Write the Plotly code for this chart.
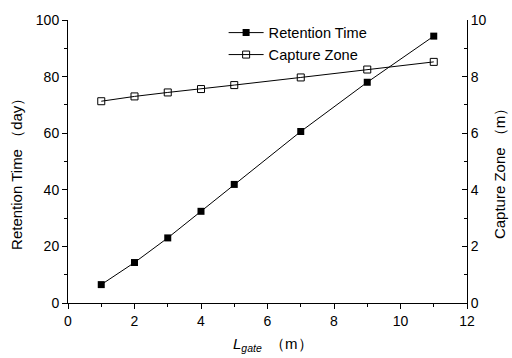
import plotly.graph_objects as go

# Gate length (m)
l_gate = [1, 2, 3, 4, 5, 7, 9, 11]
# Retention time (day), left axis
retention_time = [6.5, 14.3, 23.0, 32.4, 41.9, 60.6, 78.0, 94.3]
# Capture zone (m), right axis
capture_zone = [7.13, 7.30, 7.44, 7.56, 7.70, 7.97, 8.25, 8.52]

FONT = "Liberation Sans, Arial, sans-serif"

fig = go.Figure()
fig.add_trace(go.Scatter(
    x=l_gate, y=retention_time, mode="lines+markers", name="Retention Time",
    line=dict(color="black", width=1),
    marker=dict(symbol="square", size=7, color="black"),
))
fig.add_trace(go.Scatter(
    x=l_gate, y=capture_zone, mode="lines+markers", name="Capture Zone",
    yaxis="y2",
    line=dict(color="black", width=1),
    marker=dict(symbol="square-open", size=7, color="black", line=dict(width=1)),
))

axis_common = dict(
    showgrid=False, zeroline=False, showline=True, linecolor="black", linewidth=1,
    tickcolor="black", ticklen=5, tickwidth=1,
    tickfont=dict(family=FONT, size=14, color="black"),
)

fig.update_layout(
    width=512, height=358,
    margin=dict(l=68, r=45, t=18, b=55),
    plot_bgcolor="white", paper_bgcolor="white",
    showlegend=True,
    legend=dict(
        x=0.39, y=1.012, xanchor="left", yanchor="top",
        bgcolor="rgba(0,0,0,0)", font=dict(family=FONT, size=14.6, color="black"),
        tracegroupgap=0, itemwidth=35,
    ),
    xaxis=dict(
        range=[0, 12], dtick=2, ticks="outside",
        minor=dict(dtick=1, ticks="outside", ticklen=3, tickcolor="black"),
        **axis_common,
    ),
    yaxis=dict(
        range=[0, 100], dtick=20, ticks="outside",
        minor=dict(dtick=10, ticks="outside", ticklen=3, tickcolor="black"),
        **axis_common,
    ),
    yaxis2=dict(
        range=[0, 10], dtick=2, ticks="inside", overlaying="y", side="right",
        minor=dict(dtick=1, ticks="inside", ticklen=3, tickcolor="black"),
        **axis_common,
    ),
    annotations=[
        dict(text="Retention Time （day）", xref="paper", yref="paper",
             x=-0.128, y=0.47, xanchor="center", yanchor="middle",
             textangle=-90, showarrow=False,
             font=dict(family=FONT, size=15, color="black")),
        dict(text="Capture Zone （m）", xref="paper", yref="paper",
             x=1.083, y=0.47, xanchor="center", yanchor="middle",
             textangle=-90, showarrow=False,
             font=dict(family=FONT, size=15, color="black")),
        dict(text="<i>L</i><sub><i>gate</i></sub>  （m）", xref="paper", yref="paper",
             x=0.515, y=-0.147, xanchor="center", yanchor="middle", showarrow=False,
             font=dict(family=FONT, size=15, color="black")),
    ],
)

fig.write_html("out.html")
